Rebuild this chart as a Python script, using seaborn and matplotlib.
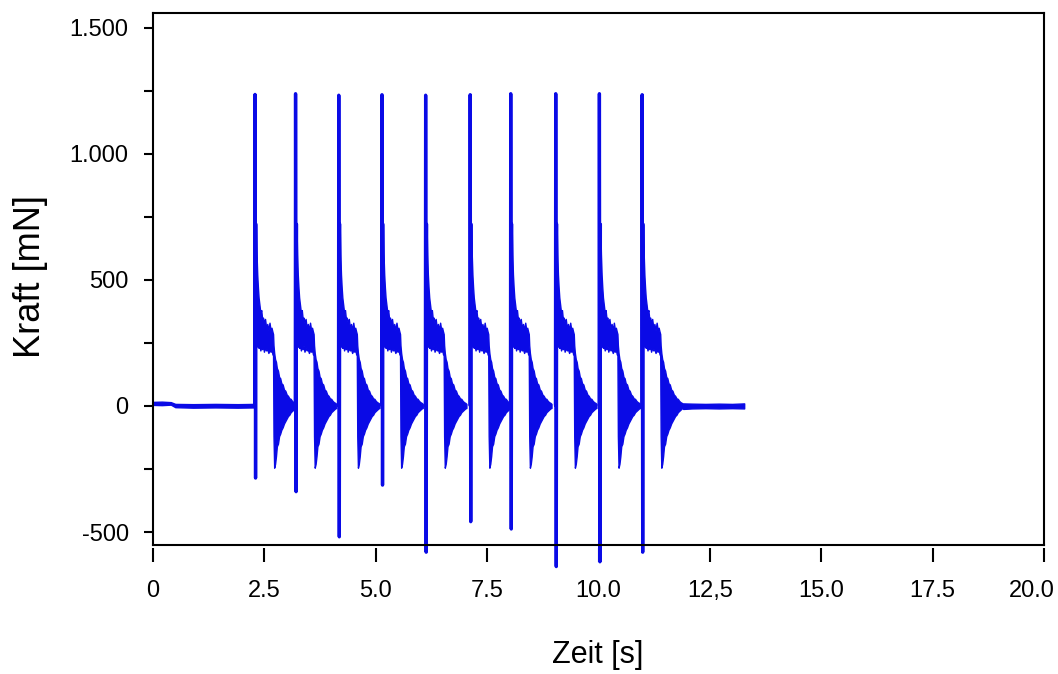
import numpy as np
import pandas as pd
import matplotlib
matplotlib.use("Agg")
import matplotlib.pyplot as plt
import matplotlib.transforms as mtransforms
from matplotlib.ticker import MultipleLocator, FixedLocator, FixedFormatter
import seaborn as sns

# ---------------- data ----------------
pulse_times = [2.29, 3.20, 4.17, 5.14, 6.12, 7.12, 8.03, 9.04, 10.02, 10.98]
pulse_peaks = [1235, 1238, 1232, 1234, 1232, 1234, 1238, 1238, 1238, 1234]
pulse_mins = [-286, -340, -519, -314, -580, -459, -488, -637, -618, -580]

# envelope of the ringing after each impulse (time relative to impulse, mN)
env_rel_t = [0.020, 0.035, 0.050, 0.065, 0.080, 0.100, 0.120, 0.140, 0.160, 0.180,
             0.200, 0.225, 0.250, 0.275, 0.300, 0.325, 0.350, 0.370, 0.390, 0.405,
             0.415, 0.430, 0.450, 0.470, 0.490, 0.515, 0.540, 0.565, 0.590, 0.620,
             0.650, 0.680, 0.710, 0.740, 0.770, 0.800, 0.830, 0.860, 0.890, 0.915]
env_upper = [720, 600, 520, 470, 430, 400, 370, 380, 345, 350,
             330, 345, 310, 325, 300, 330, 300, 310, 295, 285,
             240, 210, 185, 175, 150, 140, 115, 110, 90, 85,
             65, 60, 45, 40, 30, 28, 20, 15, 12, 8]
env_lower = [240, 250, 235, 255, 230, 240, 220, 235, 225, 240,
             215, 230, 220, 225, 210, 220, 215, 225, 205, 200,
             -120, -245, -230, -200, -160, -150, -120, -110, -95, -85,
             -70, -60, -50, -40, -35, -25, -20, -15, -10, -8]

# quiet baseline before the first impulse
pre_t = [0.00, 0.20, 0.40, 0.50, 0.90, 1.40, 1.90, 2.28]
pre_upper = [16, 17, 15, 8, 7, 8, 7, 8]
pre_lower = [4, 3, 5, -5, -7, -6, -7, -6]

# quiet tail after the last impulse
post_t = [11.90, 12.10, 12.40, 12.70, 13.00, 13.27]
post_upper = [10, 9, 8, 9, 8, 10]
post_lower = [-12, -10, -9, -10, -9, -10]

x_ticks = [0, 2.5, 5.0, 7.5, 10.0, 12.5, 15.0, 17.5, 20.0]
x_tick_labels = ["0", "2.5", "5.0", "7.5", "10.0", "12,5", "15.0", "17.5", "20.0"]
y_ticks = [-500, 0, 500, 1000, 1500]
y_tick_labels = ["-500", "0", "500", "1.000", "1.500"]

BLUE = "#0A0AE6"

# ---------------- figure ----------------
sns.set_style("ticks")
plt.rcParams["font.family"] = ["Liberation Sans", "DejaVu Sans"]

fig = plt.figure(figsize=(10.58, 6.74), dpi=100)
ax = fig.add_axes([0.14461, 0.19139, 0.84216, 0.78932])

# impulse spikes
rows = []
for i, (t0, pk, mn) in enumerate(zip(pulse_times, pulse_peaks, pulse_mins)):
    pts = [(t0 - 0.006, 3), (t0, pk), (t0 + 0.012, mn), (t0 + 0.022, env_upper[0])]
    for t, f in pts:
        rows.append({"t": t, "f": f, "pulse": i})
spikes = pd.DataFrame(rows)
sns.lineplot(data=spikes, x="t", y="f", units="pulse", estimator=None, sort=False,
             color=BLUE, linewidth=2.4, ax=ax, legend=False)
for ln in ax.lines:
    ln.set_clip_on(False)

# ringing bands
def band(t, up, lo):
    ax.fill_between(t, lo, up, color=BLUE, linewidth=1.0, edgecolor=BLUE)

band(pre_t, pre_upper, pre_lower)
for t0 in pulse_times:
    tt = [t0 + r for r in env_rel_t]
    band(tt, env_upper, env_lower)
band(post_t, post_upper, post_lower)

# ---------------- axes styling ----------------
ax.set_xlim(0, 20)
ax.set_ylim(-551.5, 1558)

ax.xaxis.set_major_locator(FixedLocator(x_ticks))
ax.xaxis.set_major_formatter(FixedFormatter(x_tick_labels))
ax.yaxis.set_major_locator(FixedLocator(y_ticks))
ax.yaxis.set_major_formatter(FixedFormatter(y_tick_labels))
ax.yaxis.set_minor_locator(MultipleLocator(250))

for s in ax.spines.values():
    s.set_linewidth(1.5)
    s.set_color("black")
    s.set_visible(True)
ax.spines["bottom"].set_position(("outward", 2.2))
ax.spines["bottom"].set_visible(False)
ax.plot([0, 1], [0, 0], transform=ax.transAxes, color="black", lw=1.5,
        clip_on=False, solid_capstyle="projecting")

ax.tick_params(axis="y", which="both", direction="out", length=6.5, width=1.5,
               pad=11, labelsize=17, colors="black")
ax.tick_params(axis="x", which="major", direction="out", length=10, width=1.5,
               pad=13, labelsize=17, colors="black")
ax.set_xlabel("")
ax.set_ylabel("")

# keep the last x tick label inside the canvas
fig.canvas.draw()
last_lbl = ax.get_xticklabels()[-1]
last_lbl.set_transform(last_lbl.get_transform() +
                       mtransforms.ScaledTranslation(-12 / 100, 0, fig.dpi_scale_trans))

fig.text(30 / 1058, 1 - 277 / 674, "Kraft [mN]", rotation=90, ha="center",
         va="center", fontsize=26, color="black")
fig.text(598 / 1058, 1 - 655 / 674, "Zeit [s]", ha="center", va="center",
         fontsize=22, color="black")

fig.savefig("out.png", dpi=100)
